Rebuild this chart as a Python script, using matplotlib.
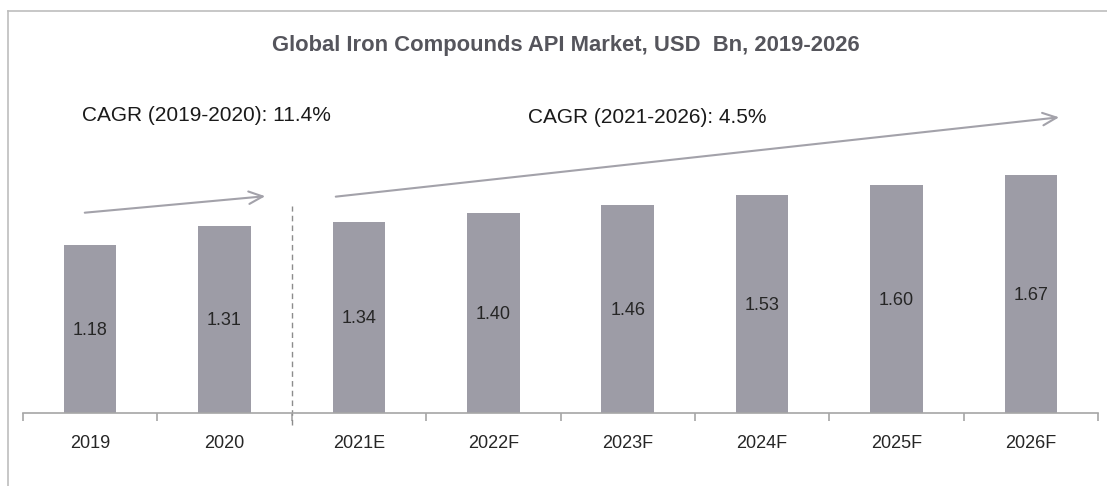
import numpy as np
import matplotlib
matplotlib.use('Agg')
import matplotlib.pyplot as plt
from matplotlib.lines import Line2D

# chart data
years = ['2019', '2020', '2021E', '2022F', '2023F', '2024F', '2025F', '2026F']
market_size = [1.18, 1.31, 1.34, 1.40, 1.46, 1.53, 1.60, 1.67]
cagr_hist = 'CAGR (2019-2020): 11.4%'
cagr_fcst = 'CAGR (2021-2026): 4.5%'
title = 'Global Iron Compounds API Market, USD  Bn, 2019-2026'

bar_color = '#9D9CA6'
text_color = '#262626'
arrow_color = '#A3A2AA'

W, H = 1107, 486
fig = plt.figure(figsize=(W / 100, H / 100), dpi=100)
plt.rcParams['font.family'] = ['Liberation Sans', 'DejaVu Sans']

# outer frame (left + top edges only visible)
fig.add_artist(Line2D([8 / W, 8 / W], [0, 1 - 11 / H], color='#BDBDBD', lw=1.2))
fig.add_artist(Line2D([8 / W, 1], [1 - 11 / H, 1 - 11 / H], color='#BDBDBD', lw=1.2))

# axes placed in pixel terms
left, right, bottom, top = 23, 1098, 413, 100
ax = fig.add_axes([left / W, (H - bottom) / H, (right - left) / W, (bottom - top) / H])

x = np.arange(len(years))
ax.bar(x, market_size, width=0.39, color=bar_color)
for xi, v in zip(x, market_size):
    ax.text(xi, v / 2 - 0.01, f'{v:.2f}', ha='center', va='center', fontsize=13, color=text_color)

ax.set_xlim(-0.5, len(years) - 0.5)
ax.set_ylim(0, 2.192)
ax.set_yticks([])
for s in ['left', 'right', 'top']:
    ax.spines[s].set_visible(False)
ax.spines['bottom'].set_color('#A6A6A6')
ax.spines['bottom'].set_linewidth(1.2)

ax.set_xticks(x)
ax.set_xticklabels(years, fontsize=13, color=text_color)
ax.tick_params(axis='x', which='major', length=0, pad=16)
ax.set_xticks(np.arange(-0.5, len(years)), minor=True)
ax.tick_params(axis='x', which='minor', length=6, color='#A6A6A6', width=1.2)

# divider between actual and forecast
ax.plot([1.5, 1.5], [-0.084, 1.45], ls=(0, (4, 3)), color='#8C8C8C', lw=1, clip_on=False)

# growth arrows
arrow_kw = dict(arrowstyle='->,head_length=1.0,head_width=0.45', color=arrow_color, lw=1.5)
ax.annotate('', xy=(1.323, 1.520), xytext=(-0.061, 1.401), arrowprops=arrow_kw,
            annotation_clip=False)
ax.annotate('', xy=(7.231, 2.073), xytext=(1.807, 1.513), arrowprops=arrow_kw,
            annotation_clip=False)

ax.text(-0.061, 2.080, cagr_hist, fontsize=15, color='#1A1A1A', va='center', ha='left',
        clip_on=False)
ax.text(3.257, 2.066, cagr_fcst, fontsize=15, color='#1A1A1A', va='center', ha='left',
        clip_on=False)

fig.text(566 / W, 1 - 45 / H, title, fontsize=15.8, fontweight='bold', color='#55555C',
         ha='center', va='center')

plt.savefig('out.png', dpi=100)
